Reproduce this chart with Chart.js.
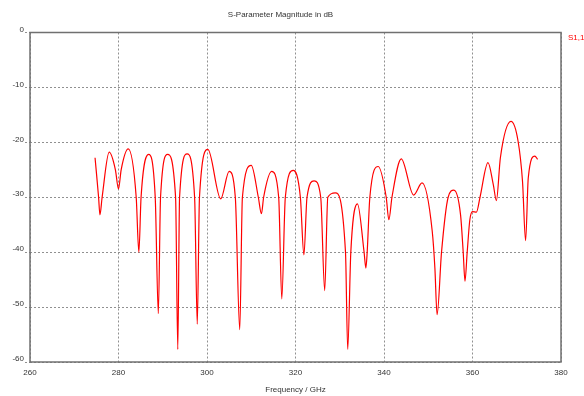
<!DOCTYPE html>
<html>
<head>
<meta charset="utf-8">
<script src="https://cdn.jsdelivr.net/npm/chart.js@4/dist/chart.umd.min.js"></script>
<style>
  body { margin: 0; background: #fff; }
</style>
</head>
<body>
<canvas id="myChart" width="584" height="396"></canvas>
<script>
// S1,1 (GHz, dB)
const freq = [
    274.7, 275.5, 275.8, 276.3, 277.9, 279.3, 280.0, 280.6, 282.2, 284.0, 284.6, 285.1,
    286.8, 288.3, 289.0, 289.5, 291.1, 292.9, 293.4, 293.8, 295.5, 297.2,
    297.8, 298.3, 300.2, 303.1, 305.0, 306.4, 307.4, 308.0, 310.0, 311.6,
    312.3, 312.8, 314.6, 316.2, 316.9, 317.7, 319.5, 321.1, 321.9, 322.6,
    324.2, 325.7, 326.6, 327.3, 329.0, 331.3, 331.8, 332.5, 334.0, 335.5,
    335.9, 336.2, 336.8, 338.7, 340.5, 341.1, 341.8, 343.9, 346.7, 348.6,
    350.9, 351.5, 352.0, 353.0, 354.5, 355.8, 357.3, 357.9, 358.3, 358.8,
    359.4, 360.0, 360.9, 361.7, 363.5, 364.7, 365.4, 366.3, 368.7, 370.3,
    371.3, 372.0, 372.6, 374.1, 374.7
];
const s11 = [
    -22.8, -30, -33.2, -30, -21.8, -25, -28.5, -25, -21.2, -30, -40.0, -30,
    -22.2, -30, -51.2, -30, -22.2, -30, -57.7, -30, -22.1, -30,
    -53.1, -30, -21.3, -30.3, -25.3, -30, -54.1, -30, -24.2, -30,
    -33.0, -30, -25.3, -30, -48.5, -30, -25.1, -30, -40.5, -30,
    -27.0, -30, -47.0, -30, -29.2, -40, -57.7, -40, -31.2, -40,
    -42.9, -40, -30, -24.4, -30, -34.1, -30, -23.0, -29.6, -27.4,
    -36.2, -42.9, -51.4, -40, -30, -28.7, -33.2, -40, -45.3, -40,
    -34.1, -32.6, -32.7, -30, -23.7, -27.7, -30.6, -22.8, -16.2, -19.8,
    -27.1, -37.9, -26.5, -22.5, -23.1
];
const seriesName = 'S1,1';
const xTicks = [260, 280, 300, 320, 340, 360, 380];
const yTicks = [0, -10, -20, -30, -40, -50, -60];

const points = freq.map((f, i) => ({ x: f, y: s11[i] }));
const font = { family: 'Liberation Sans', size: 8, weight: 'normal' };

// frame round the plot and the series name on the right
const framePlugin = {
    id: 'frame',
    beforeDatasetsDraw(chart) {
        const { ctx, chartArea: a } = chart;
        ctx.save();
        ctx.strokeStyle = '#707070';
        ctx.lineWidth = 1.5;
        ctx.strokeRect(a.left, a.top, a.right - a.left, a.bottom - a.top);
        ctx.restore();
    },
    afterDraw(chart) {
        const { ctx, chartArea: a } = chart;
        ctx.save();
        ctx.fillStyle = '#ff0000';
        ctx.font = '8px "Liberation Sans"';
        ctx.textBaseline = 'middle';
        ctx.fillText(chart.data.datasets[0].label, a.right + 7, a.top + 5);
        ctx.restore();
    }
};

const myChart = new Chart(document.getElementById('myChart').getContext('2d'), {
    type: 'line',
    data: {
        datasets: [{
            label: seriesName,
            data: points,
            borderColor: '#ff0000',
            borderWidth: 1.2,
            pointRadius: 0,
            cubicInterpolationMode: 'monotone',
            fill: false
        }]
    },
    options: {
        responsive: false,
        animation: false,
        layout: { padding: { left: 0, right: 23, top: 0, bottom: 0 } },
        plugins: {
            legend: { display: false },
            tooltip: { enabled: false },
            title: {
                display: true,
                text: 'S-Parameter Magnitude in dB',
                color: '#333',
                font: font,
                padding: { top: 10, bottom: 12.9 }
            }
        },
        scales: {
            x: {
                type: 'linear',
                min: 260,
                max: 380,
                afterFit: s => { s.height = 34; },
                afterBuildTicks: s => { s.ticks = xTicks.map(v => ({ value: v })); },
                grid: { color: '#909090', drawTicks: false },
                border: { display: false, dash: [2, 2] },
                ticks: { color: '#333', font: font, padding: 6, maxRotation: 0 },
                title: {
                    display: true,
                    text: 'Frequency / GHz',
                    color: '#333',
                    font: font,
                    padding: { top: 0, bottom: 1 }
                }
            },
            y: {
                min: -60,
                max: 0,
                afterFit: s => { s.width = 30; },
                afterBuildTicks: s => { s.ticks = yTicks.map(v => ({ value: v })); },
                grid: { color: '#909090', tickLength: 5, tickBorderDash: [2, 2] },
                border: { display: false, dash: [2, 2] },
                ticks: { color: '#333', font: font, padding: 1, labelOffset: -3 }
            }
        }
    },
    plugins: [framePlugin]
});
</script>
</body>
</html>
